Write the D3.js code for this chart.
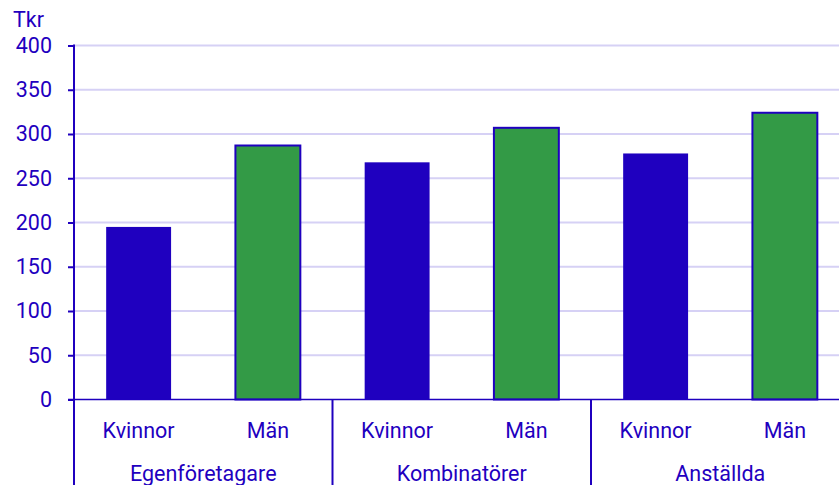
<!DOCTYPE html>
<html>
<head>
<meta charset="utf-8">
<script src="https://cdn.jsdelivr.net/npm/d3@7"></script>
<style>
  body { margin: 0; background: #fff; }
  text { font-family: Roboto, "Noto Sans", sans-serif; }
</style>
</head>
<body>
<div id="chart"></div>
<script>
// Data
const groups = ["Egenföretagare", "Kombinatörer", "Anställda"];
const sexes = ["Kvinnor", "Män"];
const kvinnor = [195, 268, 278];
const man = [287, 307, 324];
const yTicks = [0, 50, 100, 150, 200, 250, 300, 350, 400];

const ink = "#1f00bf";
const fontSize = "21.5px";
const colour = d3.scaleOrdinal()
    .domain(sexes)
    .range([ink, "#339a46"]);

// set dimensions
var W = 839, H = 485;
var margin = {top: 45.5, left: 74},
    plotRight = 849.5,
    zeroY = 399.5;

let svg = d3.select("#chart")
    .append("svg")
    .attr("width", W)
    .attr("height", H);

let data = [];
groups.forEach(function(g, i) {
    data.push({group: g, sex: "Kvinnor", value: kvinnor[i]});
    data.push({group: g, sex: "Män", value: man[i]});
});

var x0 = d3.scaleBand()
    .domain(groups)
    .range([margin.left, plotRight]);

var x1 = d3.scaleBand()
    .domain(sexes)
    .range([0, x0.bandwidth()])
    .paddingInner(0.49)
    .paddingOuter(0.245);

var y = d3.scaleLinear()
    .domain([0, 400])
    .range([zeroY, margin.top]);

// Gridlines
svg.append("g")
    .selectAll("line")
    .data(yTicks.filter((d) => d > 0))
    .enter()
    .append("line")
    .attr("x1", margin.left)
    .attr("x2", W)
    .attr("y1", (d) => y(d))
    .attr("y2", (d) => y(d))
    .style("stroke", "#d6d1f5")
    .style("stroke-width", 2);

// Bars
svg.append("g")
    .selectAll("rect")
    .data(data)
    .enter()
    .append("rect")
    .attr("x", (d) => x0(d.group) + x1(d.sex) + 0.5)
    .attr("y", (d) => y(d.value))
    .attr("width", x1.bandwidth() - 1)
    .attr("height", (d) => zeroY - y(d.value))
    .style("fill", (d) => colour(d.sex))
    .style("stroke", ink)
    .style("stroke-width", (d) => d.sex == "Män" ? 2 : 0);

// Y axis
let yAxis = svg.append("g")
    .attr("transform", "translate(" + margin.left + ",0)")
    .call(d3.axisLeft(y).tickValues(yTicks).tickSize(6).tickPadding(16));
yAxis.select(".domain").remove();
yAxis.selectAll("line").style("stroke", ink).style("stroke-width", 2);
yAxis.selectAll("text")
    .style("fill", ink)
    .style("font-size", fontSize)
    .style("font-family", "Roboto, sans-serif");

svg.append("line")
    .attr("x1", margin.left).attr("x2", margin.left)
    .attr("y1", margin.top - 1).attr("y2", H)
    .style("stroke", ink)
    .style("stroke-width", 2);

// X axis baseline
svg.append("line")
    .attr("x1", margin.left - 6).attr("x2", W)
    .attr("y1", zeroY).attr("y2", zeroY)
    .style("stroke", ink)
    .style("stroke-width", 1.5);

// Group separators
svg.append("g")
    .selectAll("line")
    .data(groups.slice(1))
    .enter()
    .append("line")
    .attr("x1", (d) => x0(d)).attr("x2", (d) => x0(d))
    .attr("y1", zeroY).attr("y2", H)
    .style("stroke", ink)
    .style("stroke-width", 2);

// Sex labels
svg.append("g")
    .selectAll("text")
    .data(data)
    .enter()
    .append("text")
    .attr("x", (d) => x0(d.group) + x1(d.sex) + x1.bandwidth() / 2)
    .attr("y", 437.5)
    .attr("text-anchor", "middle")
    .style("fill", ink)
    .style("font-size", fontSize)
    .text((d) => d.sex);

// Group labels
svg.append("g")
    .selectAll("text")
    .data(groups)
    .enter()
    .append("text")
    .attr("x", (d) => x0(d) + x0.bandwidth() / 2)
    .attr("y", 481)
    .attr("text-anchor", "middle")
    .style("fill", ink)
    .style("font-size", fontSize)
    .text((d) => d);

// Unit label
svg.append("text")
    .attr("x", 13)
    .attr("y", 27)
    .style("fill", ink)
    .style("font-size", fontSize)
    .text("Tkr");
</script>
</body>
</html>
